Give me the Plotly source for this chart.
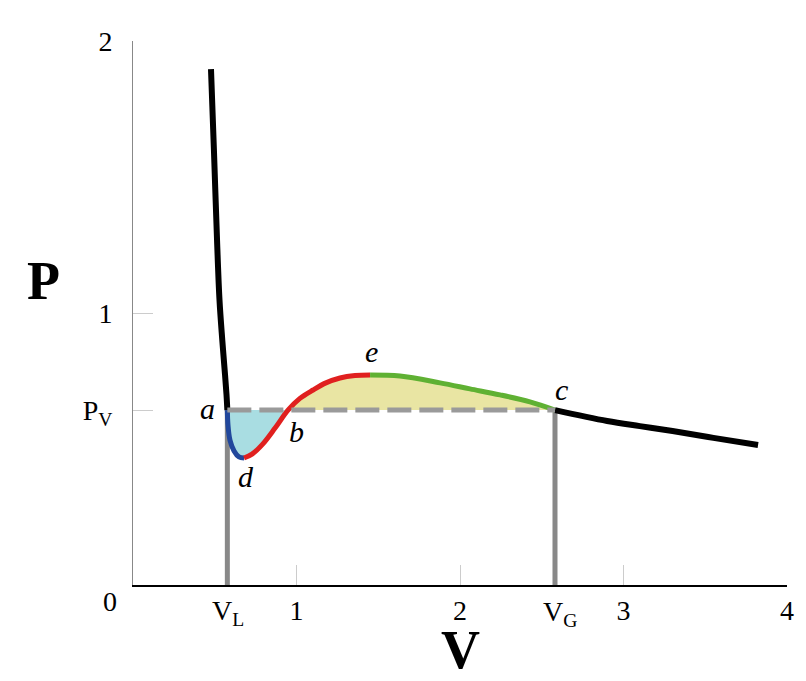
import plotly.graph_objects as go

# ---- data ----
P_V = 0.643
V_L = 0.577
V_G = 2.581

liquid_V = [0.477, 0.495, 0.514, 0.529, 0.546, 0.563, 0.572, 0.577]
liquid_P = [1.897, 1.599, 1.268, 1.048, 0.901, 0.772, 0.699, 0.643]

blue_V = [0.577, 0.581, 0.593, 0.618, 0.648, 0.679]
blue_P = [0.643, 0.588, 0.533, 0.493, 0.471, 0.467]

red1_V = [0.679, 0.728, 0.789, 0.869, 0.948]
red1_P = [0.467, 0.481, 0.515, 0.577, 0.643]
red2_V = [0.948, 1.021, 1.101, 1.180, 1.266, 1.358, 1.450]
red2_P = [0.643, 0.686, 0.717, 0.743, 0.761, 0.770, 0.772]

green_V = [1.450, 1.633, 1.878, 2.061, 2.245, 2.428, 2.581]
green_P = [0.772, 0.768, 0.743, 0.721, 0.699, 0.673, 0.643]

gas_V = [2.581, 2.900, 3.100, 3.300, 3.550, 3.823]
gas_P = [0.643, 0.603, 0.584, 0.566, 0.541, 0.515]

x_ticks = [1, 2, 3, 4]
y_ticks = [P_V, 1, 2]
y_ticktext = ["P<sub>V</sub>", "1", "2"]

X_MAX, Y_MAX = 4, 2
SERIF = "Times New Roman, Liberation Serif, serif"

fig = go.Figure()

# filled areas
fig.add_trace(go.Scatter(x=blue_V + red1_V[1:], y=blue_P + red1_P[1:], fill="toself",
                         fillcolor="#a9dde2", line=dict(width=0, shape="spline"), mode="lines",
                         hoverinfo="skip"))
fig.add_trace(go.Scatter(x=red2_V + green_V[1:], y=red2_P + green_P[1:], fill="toself",
                         fillcolor="#e9e5a3", line=dict(width=0, shape="spline"), mode="lines",
                         hoverinfo="skip"))

# vertical gray lines at V_L, V_G
for v in (V_L, V_G):
    fig.add_trace(go.Scatter(x=[v, v], y=[0, P_V], mode="lines",
                             line=dict(color="#888888", width=5), hoverinfo="skip"))

def seg(xs, ys, color, w):
    fig.add_trace(go.Scatter(x=xs, y=ys, mode="lines",
                             line=dict(color=color, width=w, shape="spline", smoothing=1),
                             hoverinfo="skip"))

seg(liquid_V, liquid_P, "#000000", 6)
seg(blue_V, blue_P, "#21479c", 5)
seg(red1_V + red2_V[1:], red1_P + red2_P[1:], "#e0201f", 5)
seg(green_V, green_P, "#5fb133", 5)
seg(gas_V, gas_P, "#000000", 6)

# dashed vapour pressure line
fig.add_trace(go.Scatter(x=[V_L, V_G], y=[P_V, P_V], mode="lines",
                         line=dict(color="#9a9a9a", width=5, dash="24px,8px"), hoverinfo="skip"))

ann = []
def lab(x, y, t, size=30, italic=True, height=None):
    # x, y given in data units; converted to paper fractions
    txt = f"<i>{t}</i>" if italic else t
    d = dict(x=x / X_MAX, y=y / Y_MAX, xref="paper", yref="paper", text=txt,
             showarrow=False, xanchor="center", yanchor="middle",
             font=dict(family=SERIF, size=size, color="black"))
    if height:
        d["height"] = height
    ann.append(d)

lab(0.453, 0.650, "a")
lab(0.997, 0.565, "b")
lab(0.691, 0.398, "d")
lab(1.456, 0.860, "e")
lab(2.618, 0.718, "c")
lab(V_L + 0.006, -0.100, "V<sub>L</sub>", size=28, italic=False)
lab(V_G + 0.03, -0.105, "V<sub>G</sub>", size=28, italic=False)
lab(-0.141, -0.060, "0", size=28, italic=False)
lab(-0.55, 1.118, "<b>P</b>", size=54, italic=False, height=44)
lab(2.006, -0.240, "<b>V</b>", size=54, italic=False, height=44)

# body margin of the page is 8px: shift margins to compensate
fig.update_layout(
    width=806, height=681,
    margin=dict(l=125, r=27, t=33, b=104, autoexpand=False),
    paper_bgcolor="white", plot_bgcolor="white",
    showlegend=False,
    annotations=ann,
    xaxis=dict(range=[0, X_MAX], showgrid=False, zeroline=False, showline=True,
               linecolor="black", linewidth=1.5, ticks="inside", ticklen=20,
               tickcolor="#cccccc", tickwidth=1, tickvals=x_ticks,
               tickfont=dict(family=SERIF, size=28, color="black"), fixedrange=True),
    yaxis=dict(range=[0, Y_MAX], showgrid=False, zeroline=False, showline=True,
               linecolor="#888888", linewidth=1, ticks="inside", ticklen=20,
               tickcolor="#cccccc", tickwidth=1, tickvals=y_ticks, ticktext=y_ticktext,
               ticklabelstandoff=14,
               tickfont=dict(family=SERIF, size=28, color="black"), fixedrange=True),
)

fig.write_html("out.html")
